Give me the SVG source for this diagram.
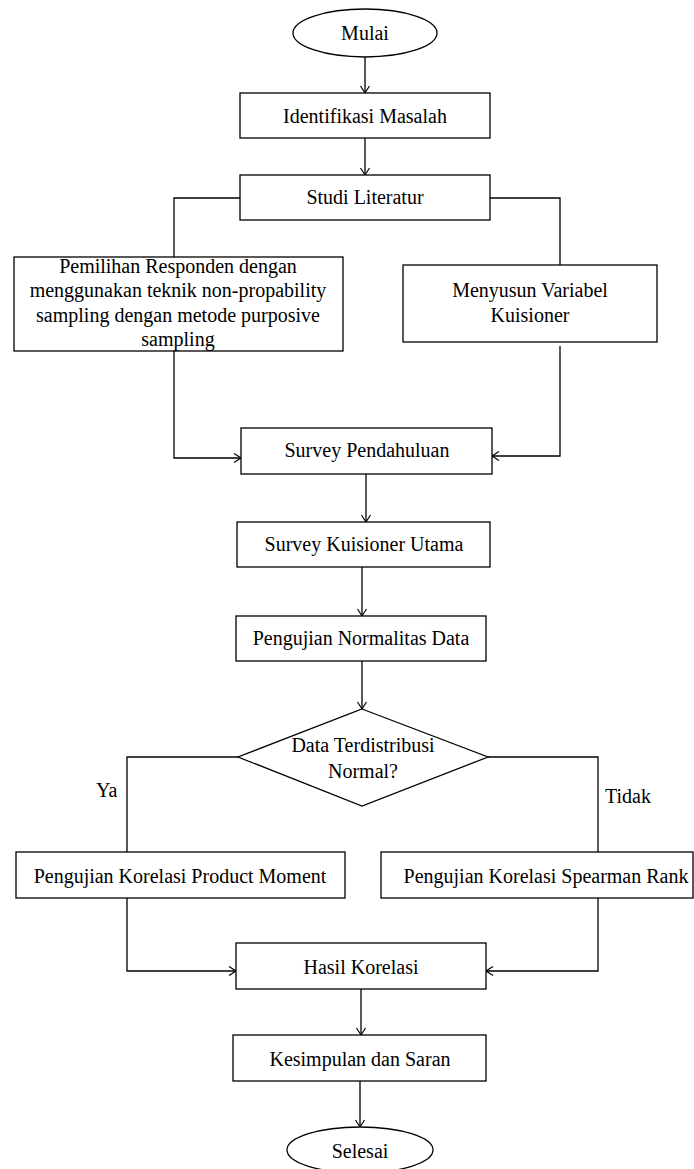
<svg xmlns="http://www.w3.org/2000/svg" width="694" height="1169" viewBox="0 0 694 1169">
<style>
.s{fill:#fff;stroke:#000;stroke-width:1.3}
.c{fill:none;stroke:#000;stroke-width:1.3}
text{font-family:"Liberation Serif","Times New Roman",serif;font-size:20px;fill:#000;text-anchor:middle}
.l{text-anchor:start}
</style>
<defs>
<marker id="a" markerWidth="10" markerHeight="10" refX="8" refY="5" orient="auto" markerUnits="userSpaceOnUse">
<path d="M1,0.5 L8,5 L1,9.5" fill="none" stroke="#000" stroke-width="1.2"/>
</marker>
</defs>
<rect width="694" height="1169" fill="#fff"/>
<g id="connectors">
<path class="c" d="M365,57 L365,93" marker-end="url(#a)"/>
<path class="c" d="M365,138 L365,175" marker-end="url(#a)"/>
<path class="c" d="M240,198 L174,198 L174,257"/>
<path class="c" d="M490,198 L560,198 L560,265"/>
<path class="c" d="M174,351 L174,458 L241,458" marker-end="url(#a)"/>
<path class="c" d="M560,346 L560,456 L492,456" marker-end="url(#a)"/>
<path class="c" d="M366,474 L366,522" marker-end="url(#a)"/>
<path class="c" d="M362,567 L362,616" marker-end="url(#a)"/>
<path class="c" d="M362,661 L362,709" marker-end="url(#a)"/>
<path class="c" d="M238,757 L127,757 L127,852"/>
<path class="c" d="M488,757 L598,757 L598,852"/>
<path class="c" d="M127,898 L127,971 L236,971" marker-end="url(#a)"/>
<path class="c" d="M598,898 L598,971 L486,971" marker-end="url(#a)"/>
<path class="c" d="M361,989 L361,1035" marker-end="url(#a)"/>
<path class="c" d="M360,1081 L360,1127" marker-end="url(#a)"/>
<text class="l" x="96" y="797">Ya</text>
<text class="l" x="605" y="803">Tidak</text>
</g>
<g id="mulai"><ellipse class="s" cx="365" cy="33" rx="72" ry="24"/><text x="365" y="40">Mulai</text></g>
<g id="identifikasi"><rect class="s" x="240" y="93" width="250" height="45"/><text x="365" y="123">Identifikasi Masalah</text></g>
<g id="studi"><rect class="s" x="240" y="175" width="250" height="45"/><text x="365" y="204">Studi Literatur</text></g>
<g id="pemilihan"><rect class="s" x="14" y="257" width="329" height="94"/>
<text x="178" y="273">Pemilihan Responden dengan</text>
<text x="178" y="297">menggunakan teknik non-propability</text>
<text x="178" y="322">sampling dengan metode purposive</text>
<text x="178" y="346">sampling</text></g>
<g id="menyusun"><rect class="s" x="403" y="265" width="254" height="77"/>
<text x="530" y="297">Menyusun Variabel</text>
<text x="530" y="322">Kuisioner</text></g>
<g id="survey-pendahuluan"><rect class="s" x="241" y="428" width="251" height="46"/><text x="367" y="457">Survey Pendahuluan</text></g>
<g id="survey-utama"><rect class="s" x="237" y="522" width="253" height="45"/><text x="364" y="551">Survey Kuisioner Utama</text></g>
<g id="normalitas"><rect class="s" x="236" y="616" width="250" height="45"/><text x="361" y="645">Pengujian Normalitas Data</text></g>
<g id="keputusan"><polygon class="s" points="362,709 488,757 362,806 238,757"/>
<text x="363" y="752">Data Terdistribusi</text>
<text x="363" y="778">Normal?</text></g>
<g id="product-moment"><rect class="s" x="16" y="852" width="329" height="46"/><text x="180" y="883">Pengujian Korelasi Product Moment</text></g>
<g id="spearman"><rect class="s" x="381" y="852" width="312" height="46"/><text x="546" y="883">Pengujian Korelasi Spearman Rank</text></g>
<g id="hasil"><rect class="s" x="236" y="943" width="250" height="46"/><text x="361" y="974">Hasil Korelasi</text></g>
<g id="kesimpulan"><rect class="s" x="233" y="1035" width="253" height="46"/><text x="360" y="1066">Kesimpulan dan Saran</text></g>
<g id="selesai"><ellipse class="s" cx="360" cy="1150" rx="73" ry="23"/><text x="360" y="1158">Selesai</text></g>
</svg>
